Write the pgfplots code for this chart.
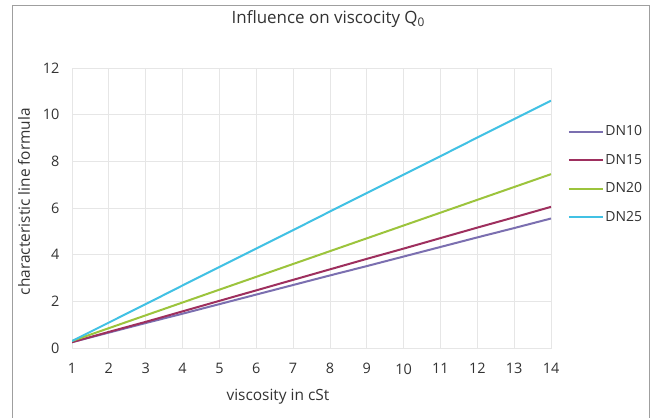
\documentclass[border=0pt]{standalone}
\usepackage{pgfplots}
\pgfplotsset{compat=1.18}
\usepackage{fontspec}
\setmainfont{Open Sans}
\definecolor{cDNten}{HTML}{7B6FB0}
\definecolor{cDNfifteen}{HTML}{9E2F5E}
\definecolor{cDNtwenty}{HTML}{9CC43C}
\definecolor{cDNtwentyfive}{HTML}{41C1E4}
\definecolor{txtgray}{HTML}{333333}
\definecolor{gridgray}{HTML}{E6E6E6}
\begin{document}
\begin{tikzpicture}[x=1bp,y=1bp]
\useasboundingbox (0,0) rectangle (658,417);
\clip (0,0) rectangle (658,417);
\fill[white] (0,0) rectangle (658,417);
\draw[gray!75, line width=1.6bp] (12.5,-10) rectangle (649.5,411.5);
\begin{axis}[
  scale only axis, width=479bp, height=280bp,
  at={(72bp,69bp)}, anchor=south west,
  xmin=1, xmax=14, ymin=0, ymax=12,
  xtick={1,...,14}, ytick={0,2,...,12},
  grid=major, major grid style={draw=gridgray, line width=0.8bp},
  axis line style={draw=gridgray, line width=0.8bp},
  major tick length=0pt,
  tick label style={font=\fontsize{14.5}{17}\selectfont, text=txtgray},
  /pgf/number format/assume math mode=true,
  yticklabel style={xshift=-9bp},
  xticklabel style={yshift=-12bp},
  xlabel={viscosity in cSt},
  ylabel={characteristic line formula},
  label style={font=\fontsize{15.5}{18}\selectfont, text=txtgray},
  xlabel style={at={(axis description cs:0.43,-0.186)}, anchor=base},
  ylabel style={at={(axis description cs:-0.100,0.523)}, anchor=center},
  title={Influence on viscocity Q\textsubscript{0}},
  title style={at={(axis description cs:0.535,1.136)}, anchor=base, font=\fontsize{17}{20}\selectfont, text=txtgray},
  legend style={at={(axis description cs:1.035,0.62)}, anchor=west, draw=none, fill=none,
    font=\fontsize{14}{17}\selectfont, text=txtgray, inner sep=0pt, row sep=14bp,
    nodes={inner sep=1.5bp}},
  legend cell align=left,
  legend image code/.code={\draw[#1] (0bp,0bp) -- (34bp,0bp);},
  every axis plot/.append style={line width=2bp},
]
\addplot[cDNten] coordinates {(1,0.25)(2,0.66)(3,1.07)(4,1.47)(5,1.88)(6,2.29)(7,2.70)(8,3.11)(9,3.51)(10,3.92)(11,4.33)(12,4.74)(13,5.14)(14,5.55)};
\addlegendentry{DN10}
\addplot[cDNfifteen] coordinates {(1,0.25)(2,0.69)(3,1.12)(4,1.57)(5,2.02)(6,2.47)(7,2.92)(8,3.37)(9,3.82)(10,4.26)(11,4.71)(12,5.16)(13,5.60)(14,6.05)};
\addlegendentry{DN15}
\addplot[cDNtwenty] coordinates {(1,0.30)(2,0.85)(3,1.40)(4,1.95)(5,2.50)(6,3.05)(7,3.60)(8,4.15)(9,4.70)(10,5.25)(11,5.80)(12,6.35)(13,6.90)(14,7.45)};
\addlegendentry{DN20}
\addplot[cDNtwentyfive] coordinates {(1,0.30)(2,1.09)(3,1.88)(4,2.68)(5,3.47)(6,4.26)(7,5.05)(8,5.85)(9,6.64)(10,7.43)(11,8.22)(12,9.02)(13,9.81)(14,10.60)};
\addlegendentry{DN25}
\end{axis}
\end{tikzpicture}
\end{document}
